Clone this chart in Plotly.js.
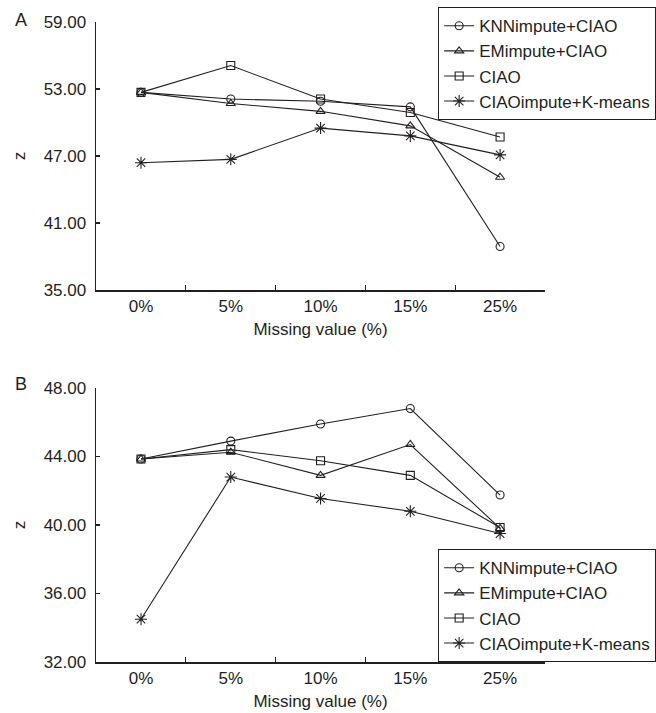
<!DOCTYPE html>
<html>
<head>
<meta charset="utf-8">
<script src="https://cdn.plot.ly/plotly-3.0.1.min.js"></script>
<style>html,body{margin:0;padding:0;background:#fff;}#chart{width:656px;height:713px;}</style>
</head>
<body>
<div id="chart"></div>
<script>
// Categories (missing value rate)
const categories = ['0%', '5%', '10%', '15%', '25%'];
const seriesNames = ['KNNimpute+CIAO', 'EMimpute+CIAO', 'CIAO', 'CIAOimpute+K-means'];

// Panel A values
const knnA   = [52.7, 52.1, 51.9, 51.4, 38.9];
const emA    = [52.7, 51.7, 51.0, 49.7, 45.1];
const ciaoA  = [52.7, 55.1, 52.1, 50.9, 48.7];
const kmA    = [46.4, 46.7, 49.5, 48.8, 47.1];

// Panel B values
const knnB   = [43.85, 44.9, 45.9, 46.8, 41.75];
const emB    = [43.85, 44.25, 42.9, 44.7, 39.8];
const ciaoB  = [43.85, 44.4, 43.75, 42.9, 39.85];
const kmB    = [34.5, 42.8, 41.55, 40.8, 39.5];

// Axis ticks
const yTicksA = [35, 41, 47, 53, 59];
const yTicksB = [32, 36, 40, 44, 48];

const symbols = ['circle-open', 'triangle-up-open', 'square-open', 'asterisk-open'];
const ink = '#231f20';
const font = {family: 'Liberation Sans, Arial, sans-serif', size: 17, color: ink};

function mk(vals, i, xa, ya, leg) {
  return {
    x: categories, y: vals, name: seriesNames[i], type: 'scatter', mode: 'lines+markers',
    xaxis: xa, yaxis: ya, legend: leg,
    line: {color: ink, width: 1.1},
    marker: {symbol: symbols[i], size: i === 3 ? 10 : 8, color: ink, line: {color: ink, width: 1.1}}
  };
}

const data = [
  mk(knnA, 0, 'x', 'y', 'legend'), mk(emA, 1, 'x', 'y', 'legend'),
  mk(ciaoA, 2, 'x', 'y', 'legend'), mk(kmA, 3, 'x', 'y', 'legend'),
  mk(knnB, 0, 'x2', 'y2', 'legend2'), mk(emB, 1, 'x2', 'y2', 'legend2'),
  mk(ciaoB, 2, 'x2', 'y2', 'legend2'), mk(kmB, 3, 'x2', 'y2', 'legend2')
];

const W = 656, H = 713;
const xdom = [97 / W, 550 / W];

function xax(anchor) {
  return {
    domain: xdom, anchor: anchor, type: 'category', range: [-0.5, 4.5],
    tickson: 'boundaries', ticks: 'inside', ticklen: 5, tickwidth: 1.2, tickcolor: ink,
    showline: true, linecolor: ink, linewidth: 1.5, showgrid: false, zeroline: false,
    tickfont: font, fixedrange: true,
    title: {text: 'Missing value (%)', font: font, standoff: 8}
  };
}
function yax(anchor, dom, ticks) {
  return {
    domain: dom, anchor: anchor, range: [ticks[0], ticks[ticks.length - 1]],
    tickvals: ticks, tickformat: '.2f', ticks: 'inside', ticklen: 4, tickwidth: 1.2, tickcolor: ink,
    showline: true, linecolor: ink, linewidth: 1.5, showgrid: false, zeroline: false,
    tickfont: font, ticklabelstandoff: 5,
    title: {text: 'z', font: font, standoff: 13}
  };
}

const legendStyle = {
  font: {family: font.family, size: 17, color: ink},
  bgcolor: '#fff', bordercolor: ink, borderwidth: 1.2,
  xanchor: 'left', yanchor: 'top', itemwidth: 30, tracegroupgap: 0
};

const layout = {
  width: W, height: H,
  margin: {l: 0, r: 0, t: 0, b: 0},
  paper_bgcolor: '#fff', plot_bgcolor: '#fff',
  showlegend: true,
  font: font,
  xaxis: xax('y'),
  yaxis: yax('x', [1 - 290 / H, 1 - 22 / H], yTicksA),
  xaxis2: xax('y2'),
  yaxis2: yax('x2', [1 - 662 / H, 1 - 388 / H], yTicksB),
  legend: Object.assign({x: 442 / W, y: 1 - 7 / H}, legendStyle),
  legend2: Object.assign({x: 442 / W, y: 1 - 549 / H}, legendStyle),
  annotations: [
    {text: 'A', xref: 'paper', yref: 'paper', x: 21 / W, y: 1 - 20 / H, showarrow: false,
     xanchor: 'center', yanchor: 'middle', font: {family: font.family, size: 18, color: ink}},
    {text: 'B', xref: 'paper', yref: 'paper', x: 21 / W, y: 1 - 384 / H, showarrow: false,
     xanchor: 'center', yanchor: 'middle', font: {family: font.family, size: 18, color: ink}}
  ]
};

Plotly.newPlot('chart', data, layout, {staticPlot: true, displayModeBar: false});
</script>
</body>
</html>
